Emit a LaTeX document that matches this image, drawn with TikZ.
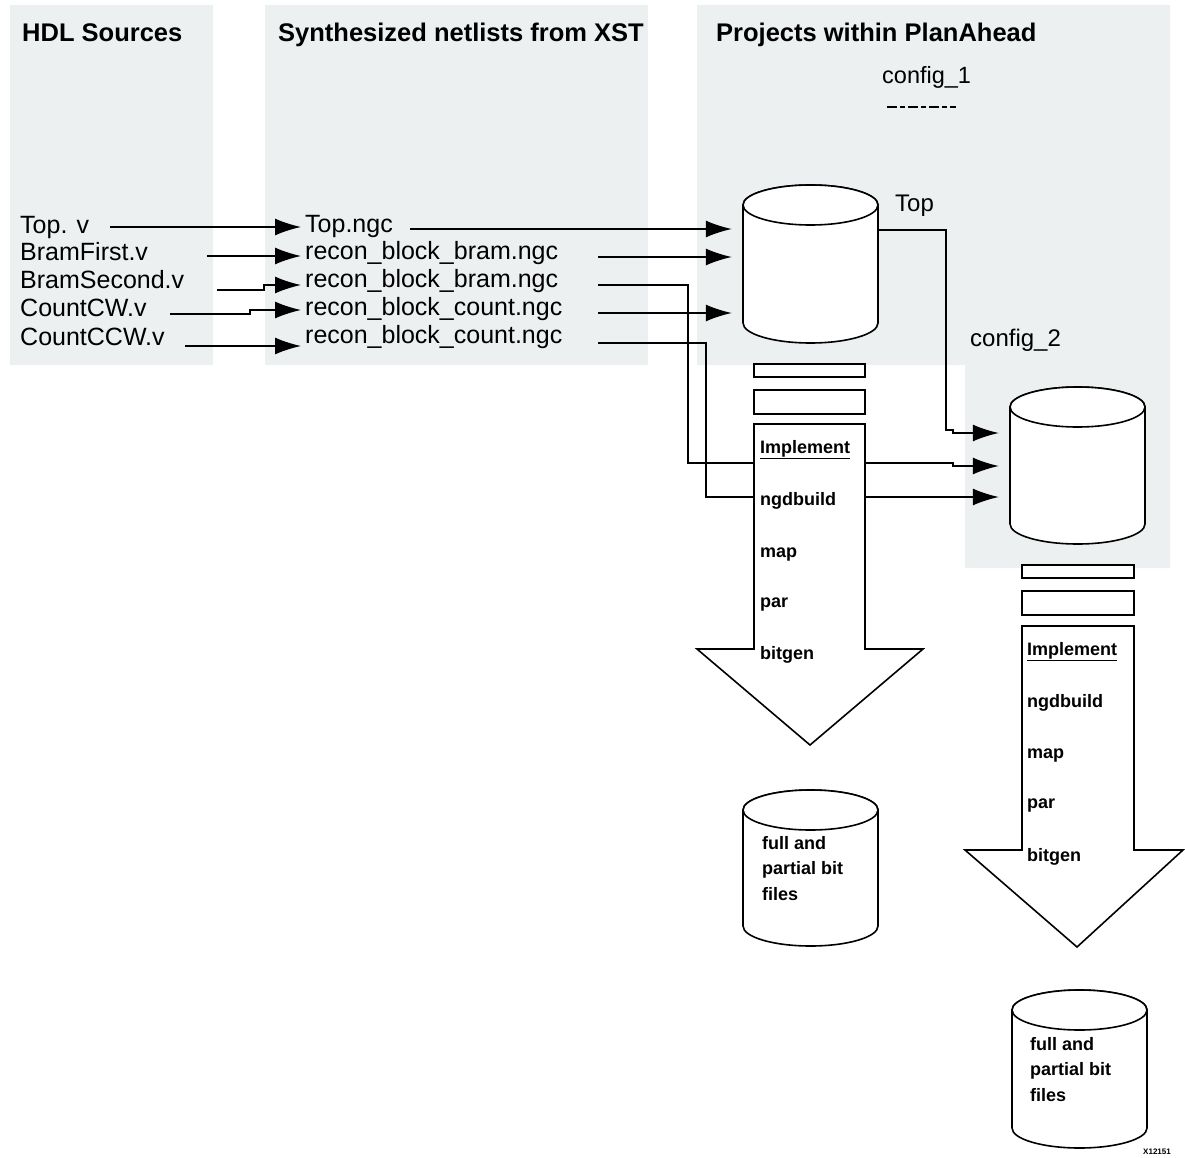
\documentclass[tikz,border=0pt]{standalone}
\usepackage{fontspec}
\setmainfont{Liberation Sans}
\usetikzlibrary{arrows.meta,fit}
\definecolor{panel}{RGB}{236,240,241}
\newcommand{\drawcyl}[4]{%
  \draw[shp] (#1-67.5,#2) -- (#1-67.5,#3)
     arc[start angle=180,end angle=360,x radius=67.5pt,y radius=20pt]
     -- (#1+67.5,#2)
     arc[start angle=0,end angle=180,x radius=67.5pt,y radius=20pt] -- cycle;
  \draw[shp] (#1,#2) ellipse[x radius=67.5pt,y radius=20pt];
  \coordinate (#4-nw) at (#1-67.5,#2-20);
  \coordinate (#4-se) at (#1+67.5,#3+20);
  \node[fit=(#4-nw)(#4-se),inner sep=0pt] (#4) {};
}
\begin{document}
\begin{tikzpicture}[x=1pt,y=-1pt,
  ttl/.style={anchor=west,inner sep=0pt,text height=19pt,text depth=5pt,font=\fontsize{25.5}{28}\selectfont\bfseries},
  lbl/.style={anchor=west,inner sep=0pt,text height=18pt,text depth=5pt,font=\fontsize{25}{28}\selectfont},
  small/.style={anchor=west,inner sep=0pt,text height=13pt,text depth=4pt,font=\fontsize{18}{25}\selectfont\bfseries},
  conn/.style={line width=1.6pt,-{Latex[length=26pt,width=17pt]}},
  shp/.style={line width=1.6pt,draw=black,fill=white},
]
\useasboundingbox (0,0) rectangle (1185,1158);
% panels
\fill[panel] (10,5) rectangle (213,365);
\fill[panel] (265,5) rectangle (648,365);
\fill[panel] (697,5) -- (1170,5) -- (1170,568) -- (965,568) -- (965,365) -- (697,365) -- cycle;
% titles
\node[ttl] (tHDL) at (22,35) {HDL Sources};
\node[ttl] (tSyn) at (278,35) {Synthesized netlists from XST};
\node[ttl] (tPrj) at (716,35) {Projects within PlanAhead};
\node[lbl,font=\fontsize{23.5}{28}\selectfont] (cfg1) at (882,77) {config\_1};
\draw[line width=1.6pt,dash pattern=on 10pt off 3pt on 5pt off 3pt] (887,107) -- (956,107);
\node[lbl,font=\fontsize{24}{28}\selectfont] (lTop) at (895,205) {Top};
\node[lbl,font=\fontsize{24}{28}\selectfont] (cfg2) at (970,340) {config\_2};
% source labels
\node[lbl] (v1) at (20,227) {Top. v};
\node[lbl] (v2) at (20,254) {BramFirst.v};
\node[lbl] (v3) at (20,282) {BramSecond.v};
\node[lbl] (v4) at (20,310) {CountCW.v};
\node[lbl] (v5) at (20,339) {CountCCW.v};
% netlist labels
\node[lbl] (m1) at (305,226) {Top.ngc};
\node[lbl] (m2) at (305,253) {recon\_block\_bram.ngc};
\node[lbl] (m3) at (305,281) {recon\_block\_bram.ngc};
\node[lbl] (m4) at (305,309) {recon\_block\_count.ngc};
\node[lbl] (m5) at (305,337) {recon\_block\_count.ngc};
% cylinders
\drawcyl{810.5}{205}{323}{cTop}
\drawcyl{1077.5}{407}{524}{cCfg}
\drawcyl{810.5}{810}{926}{cOut1}
\drawcyl{1079.5}{1010}{1128}{cOut2}
% left connectors
\coordinate (s1) at (110,227);
\coordinate (s2) at (207,256);
\coordinate (s3) at (217,290);
\coordinate (k3) at (264,285);
\coordinate (s4) at (170,314);
\coordinate (k4) at (250,310);
\coordinate (s5) at (185,346);
\draw[conn,shorten >=4pt] (s1) -- (s1 -| m1.west);
\draw[conn,shorten >=4pt] (s2) -- (s2 -| m2.west);
\draw[conn,shorten >=4pt] (s3) -- (k3 |- s3) -- (k3) -- (k3 -| m3.west);
\draw[conn,shorten >=4pt] (s4) -- (k4 |- s4) -- (k4) -- (k4 -| m4.west);
\draw[conn,shorten >=4pt] (s5) -- (s5 -| m5.west);
% right connectors
\coordinate (r1) at (410,229);
\coordinate (r2) at (598,257);
\coordinate (r3) at (598,285);
\coordinate (r4) at (598,313);
\coordinate (r5) at (598,343);
\coordinate (j3) at (688,463);
\coordinate (q3) at (953,466);
\coordinate (j5) at (706,497);
\coordinate (jc) at (946,430);
\coordinate (qc) at (953,433);
\draw[conn,shorten >=11pt] (r1) -- (r1 -| cTop.west);
\draw[conn,shorten >=11pt] (r2) -- (r2 -| cTop.west);
\draw[conn,shorten >=11pt] (r4) -- (r4 -| cTop.west);
\draw[conn,shorten >=11pt] (r3) -- (j3 |- r3) -- (j3) -- (q3 |- j3) -- (q3) -- (q3 -| cCfg.west);
\draw[conn,shorten >=11pt] (r5) -- (j5 |- r5) -- (j5) -- (j5 -| cCfg.west);
\draw[conn,shorten >=11pt] (cTop.east |- 0,230) -- (jc |- 0,230) -- (jc) -- (qc |- jc) -- (qc) -- (qc -| cCfg.west);
% flow 1
\draw[shp] (754,364) rectangle (865,377);
\draw[shp] (754,390) rectangle (865,414);
\draw[shp,line join=miter] (754,424) -- (865,424) -- (865,649) -- (923,649) -- (810,745) -- (697,649) -- (754,649) -- cycle;
\node[small] (i1) at (760,449) {\underline{Implement}};
\node[small] (n1) at (760,501) {ngdbuild};
\node[small] (p1) at (760,553) {map};
\node[small] (q1) at (760,603) {par};
\node[small] (b1) at (760,655) {bitgen};
% flow 2
\draw[shp] (1022,565) rectangle (1134,578);
\draw[shp] (1022,591) rectangle (1134,615);
\draw[shp,line join=miter] (1022,626) -- (1134,626) -- (1134,850) -- (1183,850) -- (1077,947) -- (965,850) -- (1022,850) -- cycle;
\node[small] (i2) at (1027,651) {\underline{Implement}};
\node[small] (n2) at (1027,703) {ngdbuild};
\node[small] (p2) at (1027,754) {map};
\node[small] (q2) at (1027,804) {par};
\node[small] (b2) at (1027,857) {bitgen};
% outputs text
\node[small,align=left,anchor=north west,text height=,text depth=,font=\fontsize{18}{25.5}\selectfont\bfseries] (f1) at (762,836) {full and\\partial bit\\files};
\node[small,align=left,anchor=north west,text height=,text depth=,font=\fontsize{18}{25.5}\selectfont\bfseries] (f2) at (1030,1037) {full and\\partial bit\\files};
\node[anchor=west,inner sep=0pt,font=\fontsize{8}{9}\selectfont\bfseries] (xid) at (1143,1152) {X12151};
\end{tikzpicture}
\end{document}
